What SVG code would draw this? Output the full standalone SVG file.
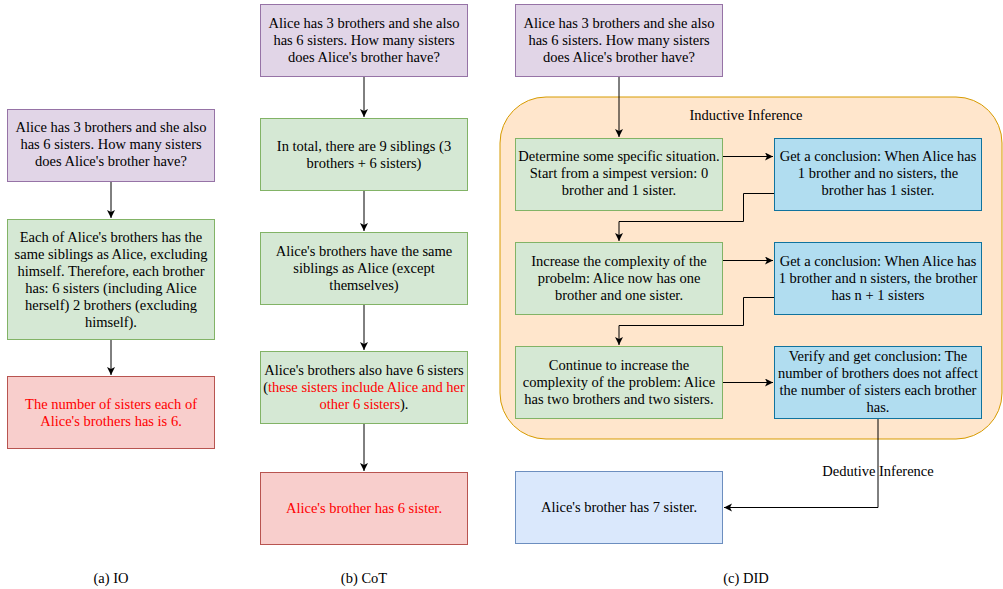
<svg xmlns="http://www.w3.org/2000/svg" width="1003" height="589" viewBox="0 0 1003 589">
<style>
text{font-family:'Liberation Serif','Times New Roman',serif;font-size:14.5px;fill:#000;text-anchor:middle}
.red{fill:#ff0000}
.pu{fill:#e1d5e7;stroke:#9673a6;stroke-width:1}
.gr{fill:#d5e8d4;stroke:#82b366;stroke-width:1}
.rd{fill:#f8cecc;stroke:#b85450;stroke-width:1}
.bl{fill:#b1ddf0;stroke:#10739e;stroke-width:1}
.lb{fill:#dae8fc;stroke:#6c8ebf;stroke-width:1}
.or{fill:#ffe6cc;stroke:#d79b00;stroke-width:1}
.c{fill:none;stroke:#000;stroke-width:1}
</style>
<defs>
<marker id="ah" markerWidth="10" markerHeight="10" refX="8" refY="4" orient="auto" markerUnits="userSpaceOnUse">
<path d="M0,0 L8,4 L0,8 L2,4 Z" fill="#000"/>
</marker>
</defs>

<g id="did-container">
<rect class="or" x="500" y="97" width="502" height="342" rx="46" ry="46"/>
<text x="746" y="120">Inductive Inference</text>
</g>

<g id="io-q">
<rect class="pu" x="7.5" y="109.5" width="207" height="72"/>
<text x="111" y="132">Alice has 3 brothers and she also</text>
<text x="111" y="149">has 6 sisters. How many sisters</text>
<text x="111" y="166">does Alice's brother have?</text>
</g>
<g id="io-step">
<rect class="gr" x="7.5" y="219.5" width="207" height="120"/>
<text x="111" y="241.5">Each of Alice's brothers has the</text>
<text x="111" y="258.5">same siblings as Alice, excluding</text>
<text x="111" y="275.5">himself. Therefore, each brother</text>
<text x="111" y="292.5">has: 6 sisters (including Alice</text>
<text x="111" y="309.5">herself) 2 brothers (excluding</text>
<text x="111" y="326.5">himself).</text>
</g>
<g id="io-ans">
<rect class="rd" x="7.5" y="376.5" width="207" height="72"/>
<text class="red" x="111" y="409">The number of sisters each of</text>
<text class="red" x="111" y="426">Alice's brothers has is 6.</text>
</g>
<text x="111" y="582.5">(a) IO</text>

<g id="cot-q">
<rect class="pu" x="260.5" y="4.5" width="207" height="72"/>
<text x="364" y="28">Alice has 3 brothers and she also</text>
<text x="364" y="45">has 6 sisters. How many sisters</text>
<text x="364" y="62">does Alice's brother have?</text>
</g>
<g id="cot-s1">
<rect class="gr" x="260.5" y="118.5" width="207" height="72"/>
<text x="364" y="151">In total, there are 9 siblings (3</text>
<text x="364" y="168">brothers + 6 sisters)</text>
</g>
<g id="cot-s2">
<rect class="gr" x="260.5" y="232.5" width="207" height="72"/>
<text x="364" y="256">Alice's brothers have the same</text>
<text x="364" y="273">siblings as Alice (except</text>
<text x="364" y="290">themselves)</text>
</g>
<g id="cot-s3">
<rect class="gr" x="260.5" y="351.5" width="207" height="72"/>
<text x="364" y="375">Alice's brothers also have 6 sisters</text>
<text x="364" y="392">(<tspan class="red">these sisters include Alice and her</tspan></text>
<text x="364" y="409"><tspan class="red">other 6 sisters</tspan>).</text>
</g>
<g id="cot-ans">
<rect class="rd" x="260.5" y="472.5" width="207" height="72"/>
<text class="red" x="364" y="513">Alice's brother has 6 sister.</text>
</g>
<text x="364" y="582.5">(b) CoT</text>

<g id="did-q">
<rect class="pu" x="515.5" y="4.5" width="207" height="72"/>
<text x="619" y="28">Alice has 3 brothers and she also</text>
<text x="619" y="45">has 6 sisters. How many sisters</text>
<text x="619" y="62">does Alice's brother have?</text>
</g>
<g id="did-g1">
<rect class="gr" x="515.5" y="138.5" width="207" height="72"/>
<text x="619" y="161">Determine some specific situation.</text>
<text x="619" y="178">Start from a simpest version: 0</text>
<text x="619" y="195">brother and 1 sister.</text>
</g>
<g id="did-b1">
<rect class="bl" x="774.5" y="138.5" width="207" height="72"/>
<text x="878" y="161">Get a conclusion: When Alice has</text>
<text x="878" y="178">1 brother and no sisters, the</text>
<text x="878" y="195">brother has 1 sister.</text>
</g>
<g id="did-g2">
<rect class="gr" x="515.5" y="242.5" width="207" height="72"/>
<text x="619" y="265.5">Increase the complexity of the</text>
<text x="619" y="282.5">probelm: Alice now has one</text>
<text x="619" y="299.5">brother and one sister.</text>
</g>
<g id="did-b2">
<rect class="bl" x="774.5" y="242.5" width="207" height="72"/>
<text x="878" y="265.5">Get a conclusion: When Alice has</text>
<text x="878" y="282.5">1 brother and n sisters, the brother</text>
<text x="878" y="299.5">has n + 1 sisters</text>
</g>
<g id="did-g3">
<rect class="gr" x="515.5" y="346.5" width="207" height="72"/>
<text x="619" y="369.5">Continue to increase the</text>
<text x="619" y="386.5">complexity of the problem: Alice</text>
<text x="619" y="403.5">has two brothers and two sisters.</text>
</g>
<g id="did-b3">
<rect class="bl" x="774.5" y="346.5" width="207" height="72"/>
<text x="878" y="360.5">Verify and get conclusion: The</text>
<text x="878" y="377.5">number of brothers does not affect</text>
<text x="878" y="394.5">the number of sisters each brother</text>
<text x="878" y="411.5">has.</text>
</g>
<g id="did-ans">
<rect class="lb" x="515.5" y="471.5" width="207" height="72"/>
<text x="619" y="512">Alice's brother has 7 sister.</text>
</g>
<text x="746" y="582.5">(c) DID</text>

<g id="connectors">
<path class="c" d="M111,182 L111,218" marker-end="url(#ah)"/>
<path class="c" d="M111,340 L111,375" marker-end="url(#ah)"/>
<path class="c" d="M364,77 L364,117" marker-end="url(#ah)"/>
<path class="c" d="M364,191 L364,231" marker-end="url(#ah)"/>
<path class="c" d="M364,305 L364,350" marker-end="url(#ah)"/>
<path class="c" d="M364,424 L364,471" marker-end="url(#ah)"/>
<path class="c" d="M619,77 L619,137" marker-end="url(#ah)"/>
<path class="c" d="M723,156.5 L773,156.5" marker-end="url(#ah)"/>
<path class="c" d="M723,260.5 L773,260.5" marker-end="url(#ah)"/>
<path class="c" d="M723,382.5 L773,382.5" marker-end="url(#ah)"/>
<path class="c" d="M774,193.5 L743.5,193.5 L743.5,221.5 L619,221.5 L619,241" marker-end="url(#ah)"/>
<path class="c" d="M774,297.5 L743.5,297.5 L743.5,325.5 L619,325.5 L619,345" marker-end="url(#ah)"/>
<path class="c" d="M878,419 L878,507.5 L724,507.5" marker-end="url(#ah)"/>
<text x="878" y="475.5">Dedutive Inference</text>
</g>
</svg>
